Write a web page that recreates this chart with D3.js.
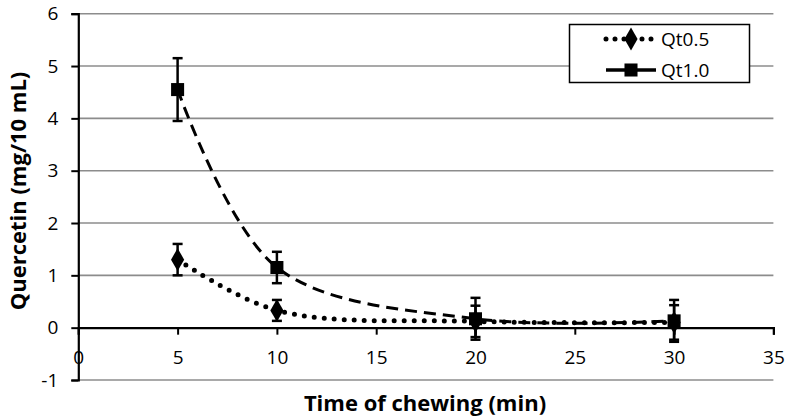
<!DOCTYPE html>
<html><head><meta charset="utf-8">
<script src="https://cdn.jsdelivr.net/npm/d3@7"></script>
<style>body{margin:0;background:#fff}svg{display:block}text{font-family:"Open Sans",sans-serif}</style>
</head><body>
<svg id="c" width="788" height="416"></svg>
<script>
const times = [5, 10, 20, 30];
const qt05 = [1.3, 0.33, 0.12, 0.1];
const qt05Err = [0.3, 0.2, 0.3, 0.33];
const qt10 = [4.55, 1.15, 0.17, 0.13];
const qt10Err = [0.6, 0.3, 0.4, 0.4];
const xTicks = [0, 5, 10, 15, 20, 25, 30, 35];
const yTicks = [-1, 0, 1, 2, 3, 4, 5, 6];
const seriesNames = ["Qt0.5", "Qt1.0"];
const FONT = "'Open Sans',sans-serif";

const svg = d3.select("#c");
const x = d3.scaleLinear().domain([0, 35]).range([78.3, 773.4]);
const y = d3.scaleLinear().domain([-1, 6]).range([380, 13.7]);

// gridlines
svg.append("g").selectAll("line").data(yTicks.filter(d => d !== 0)).join("line")
  .attr("x1", x(0)).attr("x2", x(35)).attr("y1", d => y(d)).attr("y2", d => y(d))
  .attr("stroke", "#8c8c8c").attr("stroke-width", 1.6);

// y axis
const yAx = svg.append("g").attr("transform", `translate(${x(0)},0)`)
  .call(d3.axisLeft(y).tickValues(yTicks).tickSize(7).tickPadding(13).tickFormat(d => String(d)));
yAx.select(".domain").attr("stroke", "#000").attr("stroke-width", 2.2);
yAx.selectAll(".tick line").attr("stroke", "#000").attr("stroke-width", 2);
yAx.selectAll("text").attr("font-size", 19).attr("fill", "#000").attr("font-family", FONT);

// x axis at y=0
const xAx = svg.append("g").attr("transform", `translate(0,${y(0)})`)
  .call(d3.axisBottom(x).tickValues(xTicks).tickSizeOuter(0).tickSize(7).tickPadding(16).tickFormat(d => String(d)));
xAx.select(".domain").attr("stroke", "#000").attr("stroke-width", 2.2);
xAx.selectAll(".tick line").attr("stroke", "#000").attr("stroke-width", 2);
xAx.selectAll("text").attr("font-size", 19).attr("fill", "#000").attr("font-family", FONT);

const d05 = times.map((t, i) => ({t, v: qt05[i], e: qt05Err[i]}));
const d10 = times.map((t, i) => ({t, v: qt10[i], e: qt10Err[i]}));

const line = d3.line().x(d => x(d.t)).y(d => y(d.v)).curve(d3.curveCatmullRom.alpha(0.5));

// lines
svg.append("path").attr("d", line(d10)).attr("fill", "none").attr("stroke", "#000")
  .attr("stroke-width", 3).attr("stroke-dasharray", "12 7");
svg.append("path").attr("d", line(d05)).attr("fill", "none").attr("stroke", "#000")
  .attr("stroke-width", 5).attr("stroke-linecap", "round").attr("stroke-dasharray", "0 10");

// error bars
function errBars(data) {
  const g = svg.append("g").attr("stroke", "#000").attr("stroke-width", 2.5);
  g.selectAll(".v").data(data).join("line")
    .attr("x1", d => x(d.t)).attr("x2", d => x(d.t))
    .attr("y1", d => y(d.v - d.e)).attr("y2", d => y(d.v + d.e));
  g.selectAll(".t").data(data).join("line")
    .attr("x1", d => x(d.t) - 5).attr("x2", d => x(d.t) + 5)
    .attr("y1", d => y(d.v + d.e)).attr("y2", d => y(d.v + d.e));
  g.selectAll(".b").data(data).join("line")
    .attr("x1", d => x(d.t) - 5).attr("x2", d => x(d.t) + 5)
    .attr("y1", d => y(d.v - d.e)).attr("y2", d => y(d.v - d.e));
}
errBars(d10);
errBars(d05);

// markers
const sq = d3.symbol().type(d3.symbolSquare).size(170);
const di = d3.symbol().type(d3.symbolDiamond).size(150);
svg.append("g").selectAll("path").data(d10).join("path")
  .attr("d", sq).attr("transform", d => `translate(${x(d.t)},${y(d.v)})`).attr("fill", "#000");
svg.append("g").selectAll("path").data(d05).join("path")
  .attr("d", di).attr("transform", d => `translate(${x(d.t)},${y(d.v)})`).attr("fill", "#000");

// legend
const lg = svg.append("g");
lg.append("rect").attr("x", 569.5).attr("y", 24.5).attr("width", 180).attr("height", 58)
  .attr("fill", "#fff").attr("stroke", "#000").attr("stroke-width", 1.5);
const ly = [39, 70];
lg.append("line").attr("x1", 606).attr("x2", 656).attr("y1", ly[0]).attr("y2", ly[0])
  .attr("stroke", "#000").attr("stroke-width", 5).attr("stroke-linecap", "round").attr("stroke-dasharray", "0 9");
lg.append("path").attr("d", di).attr("transform", `translate(631,${ly[0]})`).attr("fill", "#000");
lg.append("line").attr("x1", 606).attr("x2", 656).attr("y1", ly[1]).attr("y2", ly[1])
  .attr("stroke", "#000").attr("stroke-width", 3.5);
lg.append("path").attr("d", sq).attr("transform", `translate(631,${ly[1]})`).attr("fill", "#000");
lg.selectAll("text").data(seriesNames).join("text")
  .attr("x", 661).attr("y", (d, i) => ly[i]).attr("dy", "0.35em")
  .attr("font-size", 19).text(d => d);

// titles
svg.append("text").attr("x", 425).attr("y", 403).attr("dy", "0.35em").attr("text-anchor", "middle")
  .attr("font-size", 22).attr("font-weight", "bold").text("Time of chewing (min)");
svg.append("text").attr("transform", "translate(18,191) rotate(-90)").attr("dy", "0.35em")
  .attr("text-anchor", "middle").attr("font-size", 22).attr("font-weight", "bold").text("Quercetin (mg/10 mL)");
</script>
</body></html>
